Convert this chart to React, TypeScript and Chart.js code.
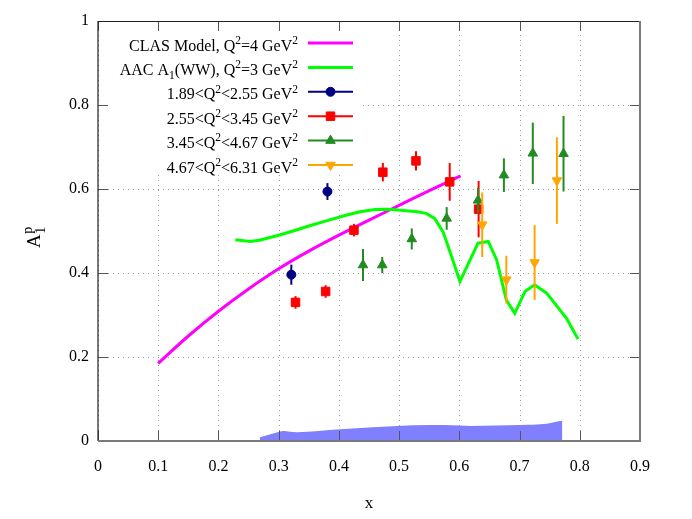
import { useEffect, useRef } from "react"
import { Chart, registerables } from "chart.js"
import { drawPoint } from "chart.js/helpers"

Chart.register(...registerables)

const FONT = "'Liberation Serif', 'DejaVu Serif', serif"
Chart.defaults.font.family = FONT

// CLAS model curve, Q^2 = 4 GeV^2
const clasX = [0.1, 0.15, 0.2, 0.25, 0.3, 0.35, 0.4, 0.45, 0.5, 0.55, 0.602]
const clasY = [0.185, 0.25, 0.309, 0.362, 0.41, 0.452, 0.49, 0.526, 0.561, 0.596, 0.631]

// AAC A1(WW) curve, Q^2 = 3 GeV^2
const aacX = [0.228, 0.253, 0.268, 0.3, 0.324, 0.35, 0.379, 0.41, 0.435, 0.46, 0.473, 0.49, 0.507, 0.53, 0.545, 0.559, 0.573, 0.587, 0.601, 0.631, 0.648, 0.662, 0.678, 0.692, 0.709, 0.725, 0.745, 0.778, 0.797]
const aacY = [0.479, 0.475, 0.478, 0.49, 0.5, 0.512, 0.524, 0.537, 0.546, 0.551, 0.552, 0.551, 0.549, 0.546, 0.542, 0.53, 0.498, 0.44, 0.38, 0.471, 0.475, 0.431, 0.336, 0.304, 0.356, 0.372, 0.352, 0.292, 0.243]

// systematic band
const bandX = [0.269, 0.301, 0.308, 0.33, 0.402, 0.496, 0.551, 0.601, 0.618, 0.701, 0.745, 0.759, 0.771]
const bandY = [0.009, 0.022, 0.024, 0.021, 0.028, 0.036, 0.038, 0.037, 0.036, 0.038, 0.041, 0.045, 0.048]

// data bins
const q1X = [0.321, 0.381]
const q1Y = [0.396, 0.594]
const q1Err = [0.024, 0.02]

const q2X = [0.328, 0.378, 0.425, 0.473, 0.528, 0.584, 0.632]
const q2Y = [0.33, 0.356, 0.502, 0.64, 0.667, 0.617, 0.552]
const q2Err = [0.015, 0.015, 0.015, 0.022, 0.023, 0.045, 0.067]

const q3X = [0.44, 0.472, 0.521, 0.579, 0.631, 0.674, 0.722, 0.773]
const q3Y = [0.419, 0.419, 0.481, 0.53, 0.573, 0.633, 0.685, 0.684]
const q3Err = [0.038, 0.019, 0.025, 0.027, 0.03, 0.04, 0.073, 0.09]

const q4X = [0.638, 0.678, 0.725, 0.762]
const q4Y = [0.515, 0.384, 0.425, 0.62]
const q4Err = [0.077, 0.057, 0.089, 0.103]

const legendLabels = [
  "CLAS Model, Q^2=4 GeV^2",
  "AAC A_1(WW), Q^2=3 GeV^2",
  "1.89<Q^2<2.55 GeV^2",
  "2.55<Q^2<3.45 GeV^2",
  "3.45<Q^2<4.67 GeV^2",
  "4.67<Q^2<6.31 GeV^2",
]

const pts = (xs: number[], ys: number[]) => xs.map((x, i) => ({ x, y: ys[i] }))
const fmt = (v: number) => parseFloat(Number(v).toFixed(2)).toString()

type Piece = { t: string; s: "" | "sup" | "sub" }

function parseRich(text: string): Piece[] {
  const out: Piece[] = []
  let buf = ""
  for (let i = 0; i < text.length; i++) {
    const c = text[i]
    if ((c === "^" || c === "_") && i + 1 < text.length) {
      if (buf) out.push({ t: buf, s: "" })
      buf = ""
      out.push({ t: text[i + 1], s: c === "^" ? "sup" : "sub" })
      i++
    } else buf += c
  }
  if (buf) out.push({ t: buf, s: "" })
  return out
}

function drawRich(ctx: CanvasRenderingContext2D, text: string, xRight: number, baseY: number, size: number) {
  const pieces = parseRich(text)
  const small = size * 0.72
  const widths = pieces.map((p) => {
    ctx.font = `${p.s ? small : size}px ${FONT}`
    return ctx.measureText(p.t).width
  })
  let x = xRight - widths.reduce((a, b) => a + b, 0)
  ctx.textAlign = "left"
  ctx.textBaseline = "alphabetic"
  pieces.forEach((p, i) => {
    ctx.font = `${p.s ? small : size}px ${FONT}`
    const dy = p.s === "sup" ? -size * 0.42 : p.s === "sub" ? size * 0.25 : 0
    ctx.fillText(p.t, x, baseY + dy)
    x += widths[i]
  })
}

const errorBars = {
  id: "errorBars",
  beforeDatasetDraw(chart: any, args: any) {
    const ds = chart.data.datasets[args.index]
    if (!ds.errors) return
    const { ctx } = chart
    const xs = chart.scales.x
    const ys = chart.scales.y
    ctx.save()
    ctx.strokeStyle = ds.borderColor
    ctx.lineWidth = 2
    ds.data.forEach((p: any, i: number) => {
      const px = xs.getPixelForValue(p.x)
      ctx.beginPath()
      ctx.moveTo(px, ys.getPixelForValue(p.y - ds.errors[i]))
      ctx.lineTo(px, ys.getPixelForValue(p.y + ds.errors[i]))
      ctx.stroke()
    })
    ctx.restore()
  },
}

// dotted grid, then the opaque key box over it
const gridAndKey = {
  id: "gridAndKey",
  beforeDatasetsDraw(chart: any) {
    const { ctx, chartArea: a } = chart
    const xs = chart.scales.x
    const ys = chart.scales.y
    ctx.save()
    ctx.strokeStyle = "#9a9a9a"
    ctx.lineWidth = 1
    ctx.setLineDash([1, 4])
    xs.ticks.forEach((t: any) => {
      const px = Math.round(xs.getPixelForValue(t.value)) + 0.5
      ctx.beginPath()
      ctx.moveTo(px, a.bottom)
      ctx.lineTo(px, a.top)
      ctx.stroke()
    })
    ys.ticks.forEach((t: any) => {
      const py = Math.round(ys.getPixelForValue(t.value)) + 0.5
      ctx.beginPath()
      ctx.moveTo(a.left, py)
      ctx.lineTo(a.right, py)
      ctx.stroke()
    })
    ctx.setLineDash([])
    ctx.fillStyle = "#ffffff"
    ctx.fillRect(a.left + 1, a.top + 1, 264, 151)
    ctx.restore()
  },
}

const frame = {
  id: "frame",
  afterDatasetsDraw(chart: any) {
    const { ctx, chartArea: a } = chart
    const xs = chart.scales.x
    const ys = chart.scales.y
    ctx.save()
    ctx.strokeStyle = "#555555"
    ctx.lineWidth = 1
    const tl = 10
    xs.ticks.forEach((t: any) => {
      const px = Math.round(xs.getPixelForValue(t.value)) + 0.5
      ctx.beginPath()
      ctx.moveTo(px, a.bottom)
      ctx.lineTo(px, a.bottom - tl)
      ctx.moveTo(px, a.top)
      ctx.lineTo(px, a.top + tl)
      ctx.stroke()
    })
    ys.ticks.forEach((t: any) => {
      const py = Math.round(ys.getPixelForValue(t.value)) + 0.5
      ctx.beginPath()
      ctx.moveTo(a.left, py)
      ctx.lineTo(a.left + tl, py)
      ctx.moveTo(a.right, py)
      ctx.lineTo(a.right - tl, py)
      ctx.stroke()
    })
    ctx.strokeStyle = "#222222"
    ctx.lineWidth = 1.2
    ctx.beginPath()
    ctx.moveTo(a.left, a.bottom)
    ctx.lineTo(a.left, a.top + 0.5)
    ctx.lineTo(a.right, a.top + 0.5)
    ctx.stroke()
    ctx.strokeStyle = "#7a7a7a"
    ctx.lineWidth = 2
    ctx.beginPath()
    ctx.moveTo(a.right, a.top)
    ctx.lineTo(a.right, a.bottom)
    ctx.lineTo(a.left, a.bottom)
    ctx.stroke()
    ctx.restore()
  },
  afterDraw(chart: any) {
    const { ctx, chartArea: a } = chart
    const datasets = chart.data.datasets
    ctx.save()
    // key
    const keyOrder = [1, 2, 3, 4, 5, 6]
    keyOrder.forEach((dsIndex, row) => {
      const ds = datasets[dsIndex]
      const y = a.top + 22 + row * 24.4
      ctx.fillStyle = "#000000"
      drawRich(ctx, legendLabels[row], a.left + 200, y + 7.5, 16)
      ctx.strokeStyle = ds.borderColor
      ctx.lineWidth = ds.type === "line" ? 3 : 2
      ctx.beginPath()
      ctx.moveTo(a.left + 210, y)
      ctx.lineTo(a.left + 255, y)
      ctx.stroke()
      if (ds.type !== "line") {
        ctx.fillStyle = ds.backgroundColor
        ctx.strokeStyle = ds.borderColor
        ctx.lineWidth = 1
        drawPoint(
          ctx,
          { pointStyle: ds.pointStyle, radius: ds.pointRadius, rotation: ds.pointRotation || 0, borderWidth: 1 } as any,
          a.left + 232.5,
          y
        )
      }
    })
    // axis titles
    ctx.fillStyle = "#000000"
    ctx.font = `17px ${FONT}`
    ctx.textAlign = "center"
    ctx.textBaseline = "alphabetic"
    ctx.fillText("x", (a.left + a.right) / 2, 508)
    ctx.translate(40, 248)
    ctx.rotate(-Math.PI / 2)
    ctx.textAlign = "left"
    ctx.font = `19px ${FONT}`
    ctx.fillText("A", 0, 0)
    const w = ctx.measureText("A").width
    ctx.font = `14px ${FONT}`
    ctx.fillText("1", w + 0.5, 4.5)
    ctx.fillText("p", w + 0.5, -8.5)
    ctx.restore()
  },
}

export default function App() {
  const canvasRef = useRef<HTMLCanvasElement>(null)
  const chartRef = useRef<Chart | null>(null)

  useEffect(() => {
    if (!canvasRef.current) return
    if (chartRef.current) chartRef.current.destroy()

    const tickFont = { family: FONT, size: 16 }

    chartRef.current = new Chart(canvasRef.current, {
      type: "scatter",
      data: {
        datasets: [
          {
            type: "line",
            label: "band",
            data: pts(bandX, bandY),
            backgroundColor: "#8080ff",
            borderColor: "#8080ff",
            borderWidth: 0,
            pointRadius: 0,
            fill: "origin",
            cubicInterpolationMode: "monotone",
            order: 7,
          },
          {
            type: "line",
            label: "CLAS Model",
            data: pts(clasX, clasY),
            borderColor: "#ff00ff",
            backgroundColor: "#ff00ff",
            borderWidth: 3,
            pointRadius: 0,
            fill: false,
            cubicInterpolationMode: "monotone",
            order: 6,
          },
          {
            type: "line",
            label: "AAC",
            data: pts(aacX, aacY),
            borderColor: "#00ff00",
            backgroundColor: "#00ff00",
            borderWidth: 3,
            pointRadius: 0,
            fill: false,
            tension: 0,
            order: 5,
          },
          {
            label: "q1",
            data: pts(q1X, q1Y),
            errors: q1Err,
            borderColor: "#000080",
            backgroundColor: "#000080",
            pointStyle: "circle",
            pointRadius: 4.5,
            pointBorderWidth: 1,
            order: 4,
          },
          {
            label: "q2",
            data: pts(q2X, q2Y),
            errors: q2Err,
            borderColor: "#ff0000",
            backgroundColor: "#ff0000",
            pointStyle: "rect",
            pointRadius: 6,
            pointBorderWidth: 1,
            order: 3,
          },
          {
            label: "q3",
            data: pts(q3X, q3Y),
            errors: q3Err,
            borderColor: "#228b22",
            backgroundColor: "#228b22",
            pointStyle: "triangle",
            pointRadius: 5.5,
            pointBorderWidth: 1,
            order: 2,
          },
          {
            label: "q4",
            data: pts(q4X, q4Y),
            errors: q4Err,
            borderColor: "#ffa500",
            backgroundColor: "#ffa500",
            pointStyle: "triangle",
            pointRotation: 180,
            pointRadius: 5.5,
            pointBorderWidth: 1,
            order: 1,
          },
        ] as any,
      },
      options: {
        animation: false,
        responsive: true,
        maintainAspectRatio: false,
        layout: { padding: { top: 21, right: 52, left: 0, bottom: 0 } },
        plugins: {
          legend: { display: false },
          tooltip: { enabled: false },
        },
        scales: {
          x: {
            type: "linear",
            min: 0,
            max: 0.9,
            afterFit: (s: any) => {
              s.height = 78
            },
            ticks: { stepSize: 0.1, padding: 16, color: "#000000", font: tickFont, maxRotation: 0, autoSkip: false, callback: (v: any) => fmt(v) },
            grid: { display: false, drawTicks: false },
            border: { display: false },
          },
          y: {
            type: "linear",
            min: 0,
            max: 1,
            afterFit: (s: any) => {
              s.width = 98
            },
            ticks: { stepSize: 0.2, padding: 9, color: "#000000", font: tickFont, autoSkip: false, callback: (v: any) => fmt(v) },
            grid: { display: false, drawTicks: false },
            border: { display: false },
          },
        },
      } as any,
      plugins: [errorBars, gridAndKey, frame],
    })

    return () => {
      if (chartRef.current) {
        chartRef.current.destroy()
        chartRef.current = null
      }
    }
  }, [])

  return (
    <div style={{ position: "absolute", left: 0, top: 0, width: 692, height: 519, background: "#ffffff" }}>
      <canvas ref={canvasRef} />
    </div>
  )
}
